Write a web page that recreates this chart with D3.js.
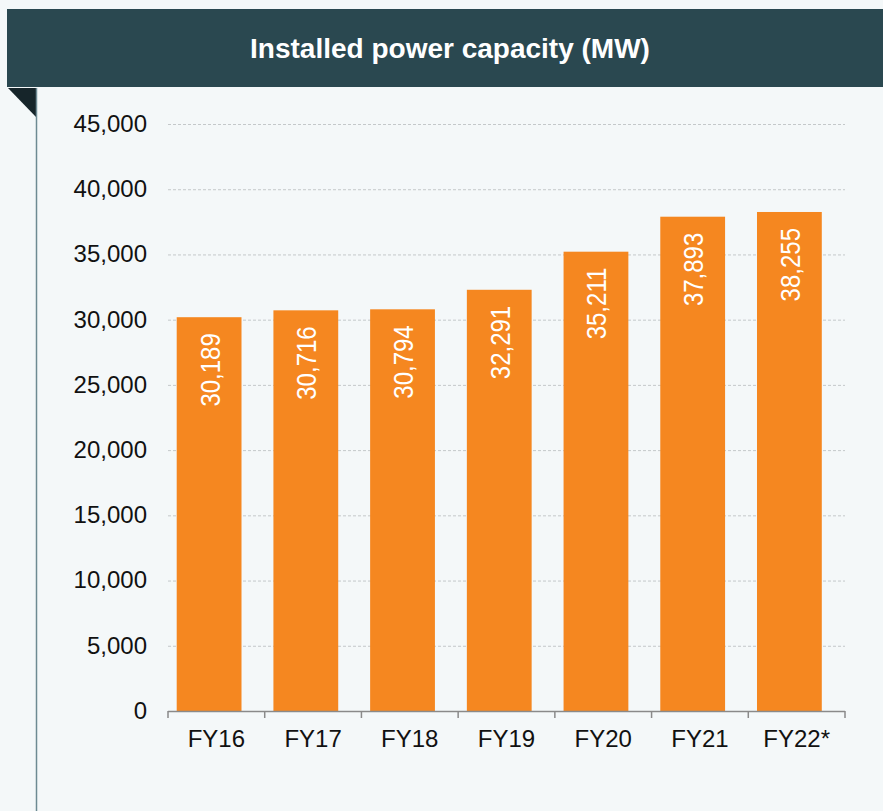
<html lang="en">
<head>
  <meta http-equiv="Content-Type" content="text/html; charset=utf-8" />
  <script src="https://d3js.org/d3.v7.min.js"></script>
  <style>
    body { margin: 0; background: #f4f8f9; }
  </style>
</head>
<body>
  <div id="divId"></div>
  <script>
    'use strict';
    const title = "Installed power capacity (MW)";
    const categories = ["FY16", "FY17", "FY18", "FY19", "FY20", "FY21", "FY22*"];
    const values = [30189, 30716, 30794, 32291, 35211, 37893, 38255];
    const yTicks = [0, 5000, 10000, 15000, 20000, 25000, 30000, 35000, 40000, 45000];

    const width = 883;
    const height = 811;
    const fontFamily = "'Liberation Sans', Arial";
    const barColor = "#f58720";
    const fmt = d3.format(",");

    const svg = d3.select("#divId")
      .append("svg")
      .attr("width", width)
      .attr("height", height);

    svg.append("rect")
      .attr("width", width).attr("height", height)
      .attr("fill", "#f4f8f9");

    // header band
    svg.append("rect")
      .attr("x", 7).attr("y", 9)
      .attr("width", width - 7).attr("height", 78)
      .attr("fill", "#2a4850");
    svg.append("text")
      .attr("x", 450).attr("y", 58)
      .attr("text-anchor", "middle")
      .style("font-family", fontFamily)
      .style("font-weight", "bold")
      .style("font-size", "28px")
      .style("fill", "white")
      .text(title);

    // fold triangle + side line
    svg.append("path")
      .attr("d", "M8 88 L36 88 L36 117 Z")
      .attr("fill", "#16252a");
    svg.append("line")
      .attr("x1", 36.5).attr("x2", 36.5)
      .attr("y1", 88).attr("y2", height)
      .attr("stroke", "#6d8a93").attr("stroke-width", 1.5);

    // band per category (ticks at band edges, labels centred)
    const x = d3.scaleBand()
      .domain(categories)
      .range([168, 845])
      .padding(0);
    const barOffset = 0.09;   // bars sit left inside their band
    const barWidth = 0.67;

    const y = d3.scaleLinear()
      .domain([0, 45000])
      .range([711, 124]);

    // gridlines
    svg.append("g")
      .selectAll("line")
      .data(yTicks.filter(d => d > 0))
      .join("line")
      .attr("x1", 168).attr("x2", 845)
      .attr("y1", d => y(d) + 0.5).attr("y2", d => y(d) + 0.5)
      .attr("stroke", "#c4c8ca")
      .attr("stroke-dasharray", "3,2");

    // y labels
    svg.append("g")
      .selectAll("text")
      .data(yTicks)
      .join("text")
      .attr("x", 147)
      .attr("y", d => y(d))
      .attr("dy", "0.33em")
      .attr("text-anchor", "end")
      .style("font-family", fontFamily)
      .style("font-size", "24px")
      .style("fill", "#111")
      .text(d => fmt(d));

    // bars
    const barX = i => x(categories[i]) + barOffset * x.step();
    svg.append("g")
      .selectAll("rect")
      .data(values)
      .join("rect")
      .attr("x", (d, i) => barX(i))
      .attr("y", d => y(d))
      .attr("width", barWidth * x.step())
      .attr("height", d => y(0) - y(d))
      .attr("fill", barColor);

    // value labels
    svg.append("g")
      .selectAll("text")
      .data(values)
      .join("text")
      .attr("transform", (d, i) => `translate(${barX(i) + barWidth * x.step() / 2 + 10.5}, ${y(d) + 16}) rotate(-90) scale(1, 1.15)`)
      .attr("text-anchor", "end")
      .style("font-family", fontFamily)
      .style("font-size", "24px")
      .style("fill", "white")
      .text(d => fmt(d));

    // x axis
    const boundaries = categories.map(c => x(c)).concat([845]);
    svg.append("line")
      .attr("x1", 168).attr("x2", 845)
      .attr("y1", 711.5).attr("y2", 711.5)
      .attr("stroke", "#8a8a8a").attr("stroke-width", 1.5);
    svg.append("g")
      .selectAll("line")
      .data(boundaries)
      .join("line")
      .attr("x1", d => d).attr("x2", d => d)
      .attr("y1", 711).attr("y2", 718)
      .attr("stroke", "#8a8a8a").attr("stroke-width", 1.5);

    svg.append("g")
      .selectAll("text")
      .data(categories)
      .join("text")
      .attr("x", d => x(d) + x.bandwidth() / 2)
      .attr("y", 747)
      .attr("text-anchor", "middle")
      .style("font-family", fontFamily)
      .style("font-size", "24px")
      .style("fill", "#111")
      .text(d => d);
  </script>
</body>
</html>
